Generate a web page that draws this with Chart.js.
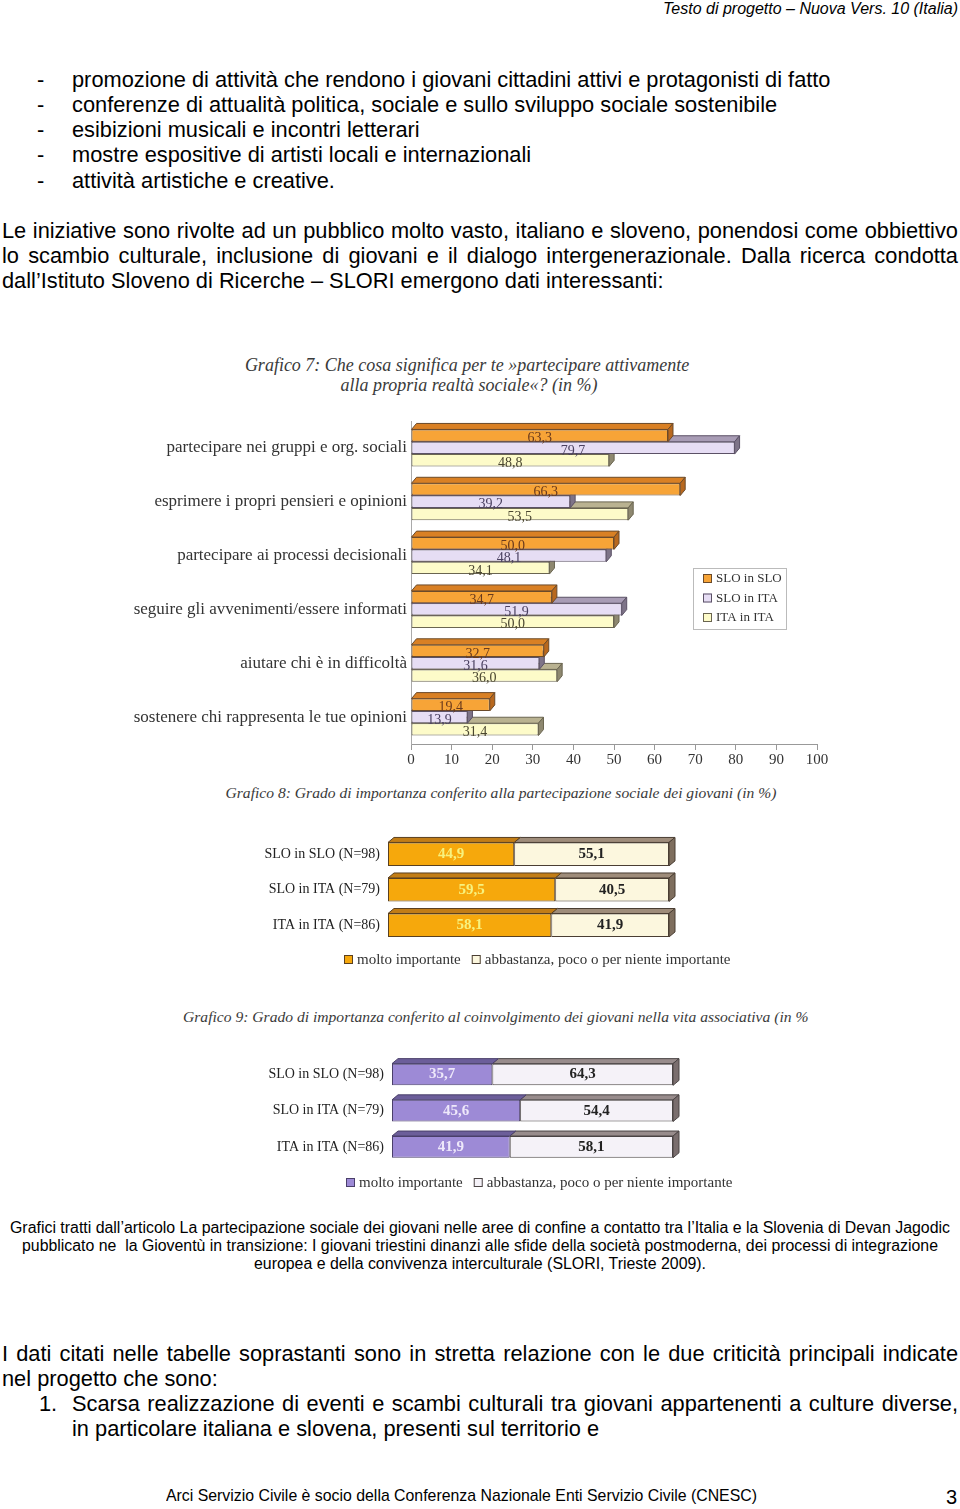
<!DOCTYPE html>
<html lang="it">
<head>
<meta charset="utf-8">
<title>Partecipazione sociale dei giovani</title>
<script src="https://cdn.jsdelivr.net/npm/chart.js@4.4.1/dist/chart.umd.min.js"></script>
<style>
  html, body { margin: 0; padding: 0; background: #fff; }
  body { width: 960px; height: 1509px; position: relative; overflow: hidden;
         font-family: "Liberation Sans", Arial, sans-serif; color: #000; }
  .t { position: absolute; white-space: nowrap; }
  .b20 { font-size: 21.8px; line-height: 24px; }
  .just { text-align: justify; text-align-last: justify; white-space: normal; }
  .ttl { font-family: "Liberation Serif", "DejaVu Serif", serif; font-style: italic;
         color: #3a3a3a; text-align: center; }
  .narrow { font-family: "Liberation Sans Narrow", "Arial Narrow", "Liberation Sans", sans-serif; }
  .fit { display: inline-block; transform-origin: left center; }
  .chart { position: absolute; }
</style>
</head>
<body>

<div class="t" style="right:2px; top:0; font-size:16px; line-height:17px; font-style:italic;">Testo di progetto – Nuova Vers. 10 (Italia)</div>

<div class="t b20" style="left:37px; top:68px;">-</div>
<div class="t b20" style="left:72px; top:68px;">promozione di attività che rendono i giovani cittadini attivi e protagonisti di fatto</div>
<div class="t b20" style="left:37px; top:93px;">-</div>
<div class="t b20" style="left:72px; top:93px;">conferenze di attualità politica, sociale e sullo sviluppo sociale sostenibile</div>
<div class="t b20" style="left:37px; top:118px;">-</div>
<div class="t b20" style="left:72px; top:118px;">esibizioni musicali e incontri letterari</div>
<div class="t b20" style="left:37px; top:143px;">-</div>
<div class="t b20" style="left:72px; top:143px;">mostre espositive di artisti locali e internazionali</div>
<div class="t b20" style="left:37px; top:169px;">-</div>
<div class="t b20" style="left:72px; top:169px;">attività artistiche e creative.</div>

<div class="t b20 just" style="left:2px; width:956px; top:219px;">Le iniziative sono rivolte ad un pubblico molto vasto, italiano e sloveno, ponendosi come obbiettivo</div>
<div class="t b20 just" style="left:2px; width:956px; top:244px;">lo scambio culturale, inclusione di giovani e il dialogo intergenerazionale. Dalla ricerca condotta</div>
<div class="t b20" style="left:2px; top:269px;">dall’Istituto Sloveno di Ricerche – SLORI emergono dati interessanti:</div>

<!-- titoli dei grafici -->
<div class="t ttl" style="left:167px; width:600px; top:355px; font-size:18px; line-height:20px;">Grafico 7: Che cosa significa per te »partecipare attivamente</div>
<div class="t ttl" style="left:169px; width:600px; top:375px; font-size:18px; line-height:20px;">alla propria realtà sociale«? (in %)</div>
<div class="t ttl" style="left:151px; width:700px; top:784px; font-size:15.6px; line-height:18px;">Grafico 8: Grado di importanza conferito alla partecipazione sociale dei giovani (in %)</div>
<div class="t ttl" style="left:183px; width:630px; overflow:hidden; text-align:left; top:1008px; font-size:15.6px; line-height:18px;">Grafico 9: Grado di importanza conferito al coinvolgimento dei giovani nella vita associativa (in %</div>

<div class="chart" style="left:100px; top:405px; width:740px; height:367px;"><canvas id="chart7"></canvas></div>
<div class="chart" style="left:190px; top:820px; width:570px; height:170px;"><canvas id="chart8"></canvas></div>
<div class="chart" style="left:190px; top:1040px; width:570px; height:160px;"><canvas id="chart9"></canvas></div>

<!-- didascalia -->
<div class="t narrow" style="left:10px; top:1219px; font-size:16px; line-height:18px;"><span class="fit" data-w="940">Grafici tratti dall’articolo La partecipazione sociale dei giovani nelle aree di confine a contatto tra l’Italia e la Slovenia di Devan Jagodic</span></div>
<div class="t narrow" style="left:22px; top:1237px; font-size:16px; line-height:18px;"><span class="fit" data-w="916">pubblicato ne&nbsp; la Gioventù in transizione: I giovani triestini dinanzi alle sfide della società postmoderna, dei processi di integrazione</span></div>
<div class="t narrow" style="left:254px; top:1255px; font-size:16px; line-height:18px;"><span class="fit" data-w="452">europea e della convivenza interculturale (SLORI, Trieste 2009).</span></div>

<div class="t b20 just" style="left:2px; width:956px; top:1342px;">I dati citati nelle tabelle soprastanti sono in stretta relazione con le due criticità principali indicate</div>
<div class="t b20" style="left:2px; top:1367px;">nel progetto che sono:</div>
<div class="t b20" style="left:39px; top:1392px;">1.</div>
<div class="t b20 just" style="left:72px; width:886px; top:1392px;">Scarsa realizzazione di eventi e scambi culturali tra giovani appartenenti a culture diverse,</div>
<div class="t b20" style="left:72px; top:1417px;">in particolare italiana e slovena, presenti sul territorio e</div>

<div class="t narrow" style="left:166px; top:1486px; font-size:17px; line-height:20px;"><span class="fit" data-w="591">Arci Servizio Civile è socio della Conferenza Nazionale Enti Servizio Civile (CNESC)</span></div>
<div class="t" style="left:946px; top:1486px; font-size:20px; line-height:22px;">3</div>

<script>
// Grafico 7: categorie e valori (in %)
const categorie7 = [
  "partecipare nei gruppi e org. sociali",
  "esprimere i propri pensieri e opinioni",
  "partecipare ai processi decisionali",
  "seguire gli avvenimenti/essere informati",
  "aiutare chi è in difficoltà",
  "sostenere chi rappresenta le tue opinioni"
];
const serie7 = ["SLO in SLO", "SLO in ITA", "ITA in ITA"];
const sloInSlo7 = [63.3, 66.3, 50.0, 34.7, 32.7, 19.4];
const sloInIta7 = [79.7, 39.2, 48.1, 51.9, 31.6, 13.9];
const itaInIta7 = [48.8, 53.5, 34.1, 50.0, 36.0, 31.4];

// Grafici 8 e 9: gruppi e quote
const gruppi = ["SLO in SLO (N=98)", "SLO in ITA (N=79)", "ITA in ITA (N=86)"];
const risposte = ["molto importante", "abbastanza, poco o per niente importante"];
const molto8 = [44.9, 59.5, 58.1];
const altro8 = [55.1, 40.5, 41.9];
const molto9 = [35.7, 45.6, 41.9];
const altro9 = [64.3, 54.4, 58.1];

const SERIF = '"Liberation Serif", "DejaVu Serif", serif';
Chart.defaults.font.family = SERIF;
Chart.defaults.color = "#333";

const fmt = (v) => v.toFixed(1).replace(".", ",");

// facce superiore e laterale delle barre "3D"
const bar3d = {
  id: "bar3d",
  beforeDatasetDraw(chart, args, opts) {
    const ds = chart.data.datasets[args.index];
    const ctx = chart.ctx;
    const dx = opts.dx, dy = opts.dy;
    const last = args.index === chart.data.datasets.length - 1;
    ctx.save();
    ctx.lineWidth = 1;
    ctx.strokeStyle = ds.borderColor;
    args.meta.data.forEach((bar) => {
      const p = bar.getProps(["x", "y", "base", "height"], true);
      const top = p.y - p.height / 2;
      const bottom = p.y + p.height / 2;
      const left = Math.min(p.x, p.base);
      const right = Math.max(p.x, p.base);
      ctx.beginPath();
      ctx.moveTo(left, top);
      ctx.lineTo(left + dx, top - dy);
      ctx.lineTo(right + dx, top - dy);
      ctx.lineTo(right, top);
      ctx.closePath();
      ctx.fillStyle = ds.topColor;
      ctx.fill();
      ctx.stroke();
      if (!opts.stacked || last) {
        ctx.beginPath();
        ctx.moveTo(right, top);
        ctx.lineTo(right + dx, top - dy);
        ctx.lineTo(right + dx, bottom - dy);
        ctx.lineTo(right, bottom);
        ctx.closePath();
        ctx.fillStyle = ds.sideColor;
        ctx.fill();
        ctx.stroke();
      }
    });
    ctx.restore();
  }
};

// valori scritti dentro le barre
const valueLabels = {
  id: "valueLabels",
  afterDatasetsDraw(chart, args, opts) {
    const ctx = chart.ctx;
    ctx.save();
    ctx.font = opts.font;
    ctx.textAlign = "center";
    ctx.textBaseline = "middle";
    chart.data.datasets.forEach((ds, i) => {
      chart.getDatasetMeta(i).data.forEach((bar, j) => {
        const p = bar.getProps(["x", "y", "base"], true);
        ctx.fillStyle = ds.labelColor;
        ctx.fillText(fmt(ds.data[j]), (p.x + p.base) / 2 + (opts.dx || 0), p.y + (opts.dy || 0));
      });
    });
    ctx.restore();
  }
};

// legenda con quadratini (in colonna o in riga)
const boxLegend = {
  id: "boxLegend",
  afterDraw(chart, args, o) {
    const ctx = chart.ctx;
    ctx.save();
    if (o.frame) {
      ctx.strokeStyle = o.frame;
      ctx.lineWidth = 1;
      ctx.strokeRect(o.frameRect[0] + 0.5, o.frameRect[1] + 0.5, o.frameRect[2], o.frameRect[3]);
    }
    ctx.font = o.font;
    ctx.textAlign = "left";
    ctx.textBaseline = "middle";
    let x = o.x, y = o.y;
    chart.data.datasets.forEach((ds) => {
      ctx.fillStyle = ds.backgroundColor;
      ctx.fillRect(x, y - 5, 9, 9);
      ctx.strokeStyle = ds.borderColor;
      ctx.lineWidth = 1;
      ctx.strokeRect(x + 0.5, y - 4.5, 8, 8);
      ctx.fillStyle = "#333";
      ctx.fillText(ds.label, x + 13, y);
      if (o.row) x += 13 + ctx.measureText(ds.label).width + o.gap;
      else y += o.step;
    });
    ctx.restore();
  }
};

// Grafico 7
new Chart(document.getElementById("chart7"), {
  type: "bar",
  data: {
    labels: categorie7,
    datasets: [
      { label: serie7[0], data: sloInSlo7, backgroundColor: "#F7A437", borderColor: "#6B4A2A",
        topColor: "#D98024", sideColor: "#B8681E", labelColor: "#6a3a1c" },
      { label: serie7[1], data: sloInIta7, backgroundColor: "#E6DDF4", borderColor: "#5B5166",
        topColor: "#A89CB5", sideColor: "#7E7488", labelColor: "#4a4060" },
      { label: serie7[2], data: itaInIta7, backgroundColor: "#FDFBC9", borderColor: "#6A6550",
        topColor: "#B9B291", sideColor: "#8E8870", labelColor: "#4a4630" }
    ]
  },
  options: {
    indexAxis: "y",
    responsive: true,
    maintainAspectRatio: false,
    animation: false,
    layout: { padding: { top: 16, right: 23, bottom: 2, left: 0 } },
    datasets: { bar: { categoryPercentage: 0.686, barPercentage: 1, borderWidth: 1, borderSkipped: false } },
    scales: {
      x: {
        min: 0, max: 100,
        ticks: { stepSize: 10, padding: 1, font: { size: 15 }, color: "#333" },
        grid: { drawOnChartArea: false, tickLength: 6, color: "#999" },
        border: { color: "#999" }
      },
      y: {
        afterFit: (s) => { s.width = 311; },
        ticks: { padding: 4, font: { size: 17 }, color: "#333" },
        grid: { display: false, drawTicks: false },
        border: { display: true, color: "#aaa" }
      }
    },
    plugins: {
      legend: { display: false },
      tooltip: { enabled: false },
      bar3d: { dx: 5, dy: 6 },
      valueLabels: { font: "14px " + SERIF, dy: 3 },
      boxLegend: { x: 603, y: 174, step: 19.5, font: "13px " + SERIF,
                   frame: "#bbb", frameRect: [593, 163, 93, 61] }
    }
  },
  plugins: [bar3d, valueLabels, boxLegend]
});

// Grafici 8 e 9 (barre in pila al 100%)
function stackChart(id, molto, altro, c, opt) {
  return new Chart(document.getElementById(id), {
    type: "bar",
    data: {
      labels: gruppi,
      datasets: [
        { label: risposte[0], data: molto, backgroundColor: c.molto, borderColor: c.mBorder,
          topColor: c.mTop, sideColor: c.mTop, labelColor: c.mLabel },
        { label: risposte[1], data: altro, backgroundColor: c.altro, borderColor: c.aBorder,
          topColor: c.aTop, sideColor: c.aSide, labelColor: "#222" }
      ]
    },
    options: {
      indexAxis: "y",
      responsive: true,
      maintainAspectRatio: false,
      animation: false,
      layout: { padding: opt.padding },
      datasets: { bar: { categoryPercentage: 1, barPercentage: opt.barPct, borderWidth: 1, borderSkipped: false } },
      scales: {
        x: { stacked: true, min: 0, max: 100, display: false },
        y: {
          stacked: true,
          afterFit: (s) => { s.width = opt.axisW; },
          ticks: { padding: 8, font: { size: 14 }, color: "#222" },
          grid: { display: false, drawTicks: false },
          border: { display: false }
        }
      },
      plugins: {
        legend: { display: false },
        tooltip: { enabled: false },
        bar3d: { dx: 6, dy: 5, stacked: true },
        valueLabels: { font: "bold 15px " + SERIF, dy: 0 },
        boxLegend: { x: opt.legX, y: opt.legY, row: true, gap: opt.gap, font: "15px " + SERIF }
      }
    },
    plugins: [bar3d, valueLabels, boxLegend]
  });
}

stackChart("chart8", molto8, altro8,
  { molto: "#F6A80C", mBorder: "#5a4020", mTop: "#C27D16", mLabel: "#F7F27E",
    altro: "#FCF7DE", aBorder: "#4a3e33", aTop: "#9E8C7A", aSide: "#7E6E5E" },
  { padding: { top: 8, right: 91, bottom: 47, left: 0 }, barPct: 0.66, axisW: 198, legX: 154, legY: 140, gap: 11 });

stackChart("chart9", molto9, altro9,
  { molto: "#9D8AD6", mBorder: "#4a3f6a", mTop: "#6C5E9A", mLabel: "#EEE8FA",
    altro: "#F5F2F8", aBorder: "#4a4444", aTop: "#988C8C", aSide: "#7a6e6e" },
  { padding: { top: 5, right: 87, bottom: 35, left: 0 }, barPct: 0.6, axisW: 202, legX: 156, legY: 143, gap: 11 });

// adatta le righe in carattere stretto alla larghezza dell'originale
document.querySelectorAll(".fit").forEach((el) => {
  const w = el.getBoundingClientRect().width;
  const target = parseFloat(el.dataset.w);
  if (w > 0) el.style.transform = "scaleX(" + (target / w) + ")";
});
</script>
</body>
</html>
